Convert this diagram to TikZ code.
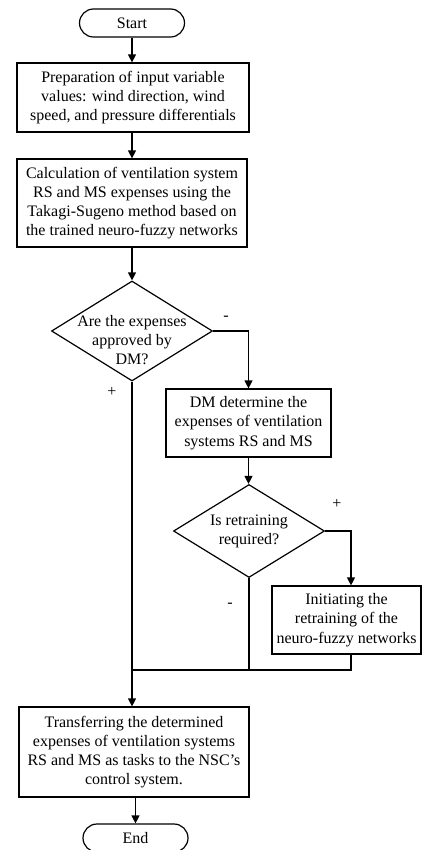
\documentclass[tikz,border=0pt]{standalone}
\usepackage{fontspec}
\setmainfont{Liberation Serif}
\usetikzlibrary{shapes}
\usetikzlibrary{arrows.meta}
\usetikzlibrary{calc}

\begin{document}
\begin{tikzpicture}[%
x=.5pt, y=-.5pt,
>={Triangle[length=4pt,width=4pt]},
line width=.6pt,
every node/.style={font=\fontsize{8}{9.6}\selectfont},
terminal/.style={draw, rectangle, rounded corners=7pt, minimum width=52.5pt, minimum height=14pt, inner sep=0pt},
process/.style={draw, rectangle, align=center, inner sep=0pt},
decision/.style={draw, diamond, inner sep=0pt},
felirat/.style={align=center, inner sep=0pt},
jel/.style={inner sep=0pt},
]

\useasboundingbox (0,0) rectangle (422,850);

\node[terminal](start) at (132,23){Start};

\node[process, minimum width=116pt, minimum height=34.5pt](prep) at (133,97.5){Preparation of input variable\\values: wind direction, wind\\speed, and pressure differentials};

\node[process, minimum width=115pt, minimum height=44pt](calc) at (132,203){Calculation of ventilation system\\RS and MS expenses using the\\Takagi-Sugeno method based on\\the trained neuro-fuzzy networks};

\node[decision, minimum width=80.5pt, minimum height=50pt](approve) at (132,331){};
\node[felirat](approvetext) at ([yshift=-4.5pt]approve){Are the expenses\\approved by\\DM?};

\node[process, minimum width=82.5pt, minimum height=34pt](dm) at (248.5,423){DM determine the\\expenses of ventilation\\systems RS and MS};

\node[decision, minimum width=75.5pt, minimum height=46.5pt](retrain) at (249,531){};
\node[felirat](retraintext) at (retrain){Is retraining\\required?};

\node[process, minimum width=74.5pt, minimum height=34pt](init) at (346.5,620){Initiating the\\retraining of the\\neuro-fuzzy networks};

\node[process, minimum width=115pt, minimum height=45pt](transfer) at (134,752){Transferring the determined\\expenses of ventilation systems\\RS and MS as tasks to the NSC's\\control system.};

\node[terminal](stop) at (135.5,838){End};

\node[jel](approveno) at (226,318){-};
\node[jel](approveyes) at (112,392){+};
\node[jel](retrainyes) at (337,504){+};
\node[jel](retrainno) at (230,605){-};

\coordinate(rturn) at (351,531);
\coordinate(mergey) at (0,670);

\draw[->] (start.south)--(start.south |- prep.north);
\draw[->] (prep.south -| calc)--(calc.north);
\draw[->] (calc.south)--(approve.north);

\draw[->] (approve.east) -| (dm.north);
\draw[->] (dm.south)--(dm.south |- retrain.north);

\draw[->] (retrain.east)--(rturn)--(rturn |- init.north);
\draw (rturn |- init.south)--(rturn |- mergey)--(approve.south |- mergey);
\draw (retrain.south)--(retrain.south |- mergey);

\draw[->] (approve.south)--(approve.south |- transfer.north);
\draw[->] (transfer.south -| stop)--(stop.north);

\end{tikzpicture}
\end{document}
